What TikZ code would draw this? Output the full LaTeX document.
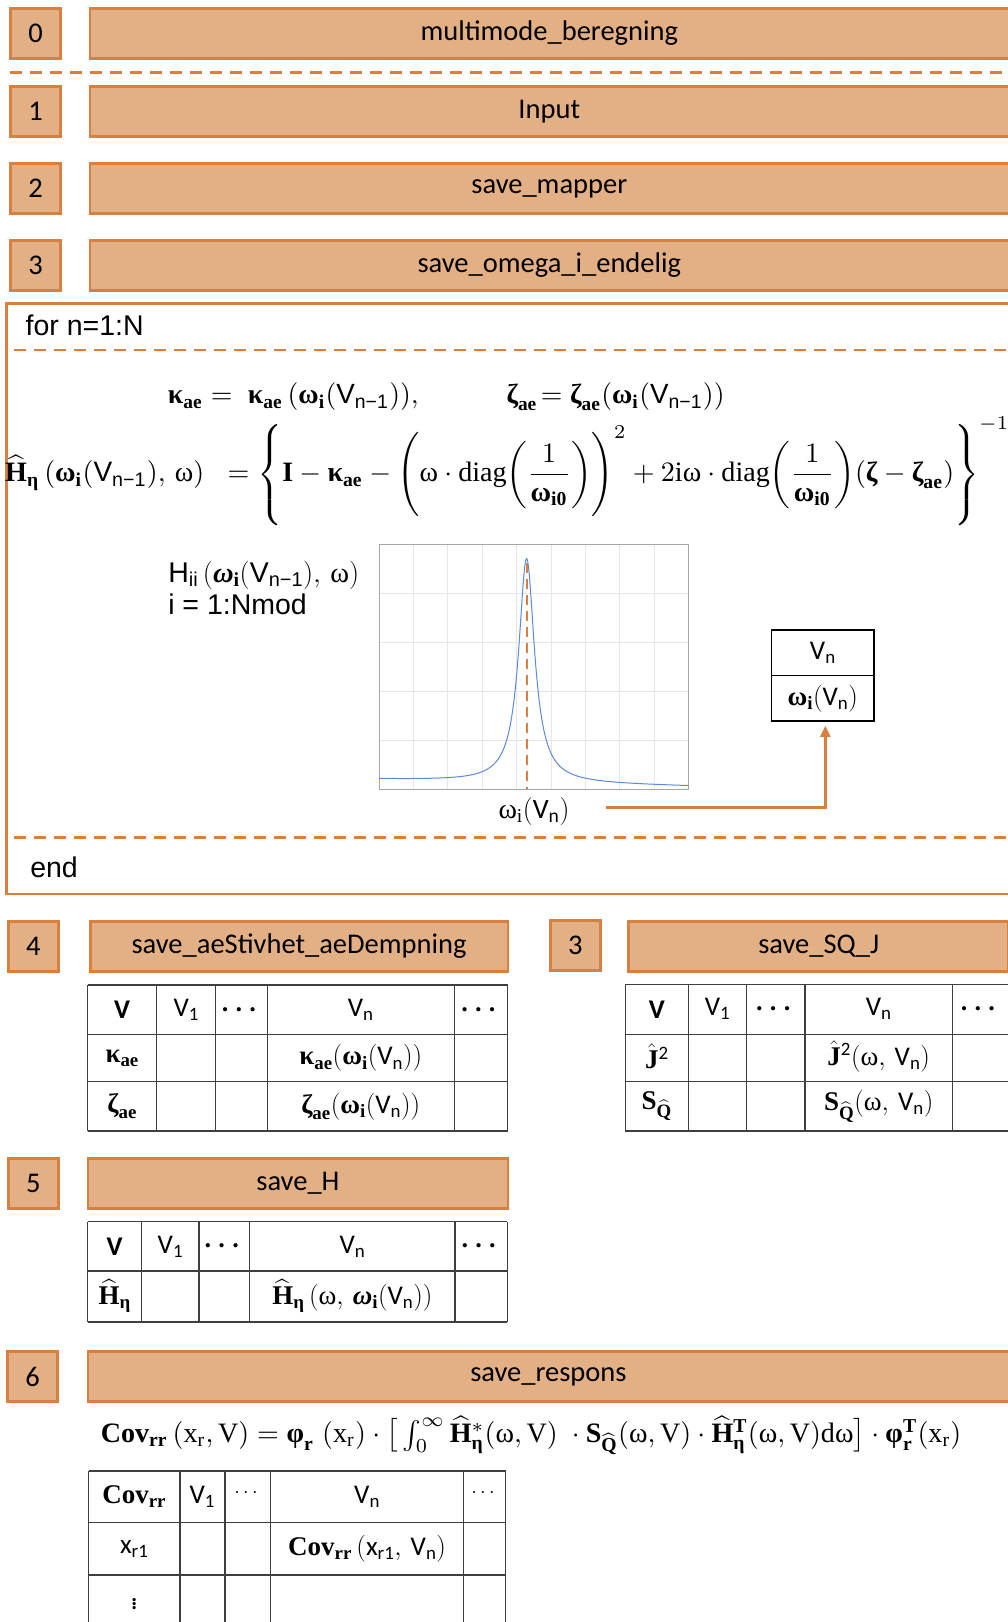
\documentclass[tikz,border=0pt]{standalone}
\usepackage{fix-cm}
\usepackage[no-math]{fontspec}
\setmainfont{Carlito}
\newfontfamily\arialfont{Liberation Sans}
\newfontfamily\serifm{Liberation Serif}
\usepackage{amsmath}
\usepackage{bm}
\usetikzlibrary{arrows.meta, positioning, calc}
\definecolor{cfill}{HTML}{E3B085}
\definecolor{cedge}{HTML}{D97F3F}
\definecolor{cline}{HTML}{3F3F3F}
\definecolor{cgrid}{HTML}{E6E6E6}
\definecolor{caxis}{HTML}{A6A6A6}
\definecolor{ccurve}{HTML}{5B8AD6}
\newcommand{\rs}[1]{\text{\serifm\upshape\mdseries #1}}
\newcommand{\bs}[1]{\text{\serifm\upshape\bfseries #1}}
\newcommand{\Vs}[1]{\text{V}_{\text{#1}}}
\newcommand{\Va}[1]{\text{\arialfont V}_{\text{\arialfont #1}}}
\newcommand{\bomi}{\bs{ω}_{\bs{i}}}
\newcommand{\bomit}{\text{\serifm\bfseries\itshape ω}_{\bs{i}}}
\newcommand{\Hhat}{\smash[t]{\widehat{\bs{H}}}}
\newcommand{\tdots}{$\bm{\cdots}$}
\tikzset{
  numbox/.style={draw=cedge, fill=cfill, minimum width=50pt, minimum height=50pt, inner sep=0pt, font=\fontsize{28.5}{34}\selectfont},
  funbox/.style={numbox, minimum width=#1},
  sep/.style={draw=cedge, dash pattern=on 12pt off 8pt},
  tab/.style={draw=cline, line width=1.5pt},
  cell/.style={inner sep=0pt, font=\fontsize{27}{32}\selectfont},
  lab/.style={inner sep=0pt, font=\arialfont\fontsize{28.5}{34}\selectfont},
  flow/.style={-{Triangle[length=11pt, width=10pt]}, draw=cedge},
}

\begin{document}
\begin{tikzpicture}[x=1pt, y=-1pt, line width=2.5pt]
  \useasboundingbox (0,0) rectangle (1007,1622);
  % steps 0 to 3
  \foreach \k/\yy/\name in {0/33.3/multimode\_beregning, 1/111.3/Input, 2/188.7/save\_mapper, 3/265.5/save\_omega\_i\_endelig} {
    \node[numbox] (n\k) at (35.5,\yy) {\k};
    \node[funbox=919pt] (f\k) at (549.3,\yy) {\name};
  }
  \draw[sep] (10,72.7) -- (1010,72.7);

  % loop over the wind speeds
  \draw[cedge] (6.4,303.3) rectangle (1012,894);
  \node[lab, anchor=west] (forlab) at (24.4,325) {for n=1:N};
  \draw[sep] (14,350) -- (1010,350);
  \node[inner sep=0pt, anchor=west] (eqk) at (166.7,397) {\resizebox{556.6pt}{!}{$\bs{κ}_{\bs{ae}} =\; \bs{κ}_{\bs{ae}}\,(\bomi(\Va{n−1})),\qquad\quad \bs{ζ}_{\bs{ae}}\!= \bs{ζ}_{\bs{ae}}(\bomi(\Va{n−1}))$}};
  \node[inner sep=0pt, anchor=west] (eqh) at (4,472) {\resizebox{1004pt}{!}{$\displaystyle \Hhat_{\bs{η}}\,(\bomi(\Va{n−1}),\,\rs{ω})\;\;=\left\{\rule[-16pt]{0pt}{37pt}\bs{I}-\bs{κ}_{\bs{ae}}-\left(\rule[-13pt]{0pt}{31pt}\rs{ω}\cdot\rs{diag}\bigg(\frac{1}{\bs{ω}_{\bs{i0}}}\bigg)\right)^{2}+2\rs{iω}\cdot\rs{diag}\bigg(\frac{1}{\bs{ω}_{\bs{i0}}}\bigg)(\bs{ζ}-\bs{ζ}_{\bs{ae}})\right\}^{-1}$}};

  % resonance plot
  \fill[white] (379,544) rectangle (688.5,789.3);
  \draw[cgrid, line width=0.8pt] foreach \i in {1,...,8} {({379+34.39*\i},544) -- ({379+34.39*\i},789.3)};
  \draw[cgrid, line width=0.8pt] foreach \j in {1,...,4} {(379,{544+49.06*\j}) -- (688.5,{544+49.06*\j})};
  \draw[caxis, line width=1pt] (379,544) rectangle (688.5,789.3);
  \draw[ccurve, line width=1pt] plot[domain=379:688.5, samples=500] (\x, {789.3 - 224/(1+((\x-526.6)/9.6)^2) - (10-7*(\x-379)/309.5)});
  \draw[cedge, dash pattern=on 10pt off 6pt] (527,563) -- (527,789.3);
  \node[lab, anchor=base west] (hlab) at (167,582) {H\textsubscript{ii}\,$(\bomit(\Va{n−1}),\,\rs{ω})$};
  \node[lab, anchor=base west] (ilab) at (167,614) {i = 1:Nmod};
  \node[inner sep=0pt, font=\fontsize{28}{34}\selectfont] (omlab) at (534,811.7) {$\rs{ω}_{\rs{i}}(\Vs{n})$};

  % value picked for the next step
  \node[draw=black, line width=1.5pt, minimum width=102.5pt, minimum height=91pt] (vtab) at (822.8,675.5) {};
  \draw[black, line width=1.5pt] (vtab.west) -- (vtab.east);
  \node[cell] (vtop) at (822.8,652.5) {$\Vs{n}$};
  \node[cell] (vbot) at (822.8,698.7) {$\bomi(\Vs{n})$};
  \draw[flow, shorten <=35pt, shorten >=4pt] ([yshift=4pt]omlab.east) -| ([xshift=2.5pt]vtab.south);

  \draw[sep] (14,837.3) -- (1010,837.3);
  \node[lab, anchor=west] (endlab) at (29,867) {end};

  % step 4
  \node[numbox] (n4) at (33.3,946.5) {4};
  \node[funbox=417.5pt] (f4) at (299,946.5) {save\_aeStivhet\_aeDempning};
  \draw[tab] foreach \cx in {87.7,156.7,215.7,267.3,454.3,507.7} {(\cx,985) -- (\cx,1131)};
  \draw[tab] foreach \cy in {985,1034.7,1081.7,1131} {(87.7,\cy) -- (507.7,\cy)};
  \node[cell] (aeV) at (122.2,1009.9) {\textbf{V}};
  \node[cell] (aeV1) at (186.2,1009.9) {$\Vs{1}$};
  \node[cell] (aeDa) at (241.5,1009.9) {\tdots};
  \node[cell] (aeVn) at (360.8,1009.9) {$\Vs{n}$};
  \node[cell] (aeDb) at (481,1009.9) {\tdots};
  \node[cell] (aeK) at (122.2,1058.2) {$\bs{κ}_{\bs{ae}}$};
  \node[cell] (aeKn) at (360.8,1058.2) {$\bs{κ}_{\bs{ae}}(\bomi(\Vs{n}))$};
  \node[cell] (aeZ) at (122.2,1106.4) {$\bs{ζ}_{\bs{ae}}$};
  \node[cell] (aeZn) at (360.8,1106.4) {$\bs{ζ}_{\bs{ae}}(\bomi(\Vs{n}))$};

  % step 3, spectra
  \node[numbox] (n3b) at (575.3,945.3) {3};
  \node[funbox=380pt] (f3b) at (818.7,946.5) {save\_SQ\_J};
  \draw[tab] foreach \cx in {625.3,688.3,746.7,805,952.3,1010} {(\cx,984.3) -- (\cx,1131)};
  \draw[tab] foreach \cy in {984.3,1034.3,1081.7,1131} {(625.3,\cy) -- (1010,\cy)};
  \node[cell] (sqV) at (656.8,1009.3) {\textbf{V}};
  \node[cell] (sqV1) at (717.5,1009.3) {$\Vs{1}$};
  \node[cell] (sqDa) at (775.9,1009.3) {\tdots};
  \node[cell] (sqVn) at (878.7,1009.3) {$\Vs{n}$};
  \node[cell] (sqDb) at (980.6,1009.3) {\tdots};
  \node[cell] (sqJ) at (656.8,1058) {$\smash[t]{\hat{\bs{J}}}^{\text{2}}$};
  \node[cell] (sqJn) at (878.7,1058) {$\smash[t]{\hat{\bs{J}}}^{\text{2}}(\rs{ω},\,\Vs{n})$};
  \node[cell] (sqS) at (656.8,1106.4) {$\bs{S}_{\widehat{\bs{Q}}}$};
  \node[cell] (sqSn) at (878.7,1106.4) {$\bs{S}_{\widehat{\bs{Q}}}(\rs{ω},\,\Vs{n})$};

  % step 5
  \node[numbox] (n5) at (33.3,1183.5) {5};
  \node[funbox=420pt] (f5) at (297.9,1183.5) {save\_H};
  \draw[tab] foreach \cx in {87.7,141.7,199,249.7,455,507.3} {(\cx,1221.7) -- (\cx,1322)};
  \draw[tab] foreach \cy in {1221.7,1271,1322} {(87.7,\cy) -- (507.3,\cy)};
  \node[cell] (hV) at (114.7,1246.4) {\textbf{V}};
  \node[cell] (hV1) at (170.4,1246.4) {$\Vs{1}$};
  \node[cell] (hDa) at (224.4,1246.4) {\tdots};
  \node[cell] (hVn) at (352.4,1246.4) {$\Vs{n}$};
  \node[cell] (hDb) at (481.2,1246.4) {\tdots};
  \node[cell] (hH) at (114.7,1296.5) {$\widehat{\bs{H}}_{\bs{η}}$};
  \node[cell] (hHn) at (352.4,1296.5) {$\widehat{\bs{H}}_{\bs{η}}\,(\rs{ω},\,\bomit(\Vs{n}))$};

  % step 6
  \node[numbox] (n6) at (32.7,1376.5) {6};
  \node[funbox=921pt] (f6) at (548.4,1376.5) {save\_respons};
  \node[inner sep=0pt, anchor=west] (eqcov) at (99.5,1436.7) {\resizebox{860.5pt}{!}{$\bs{Cov}_{\bs{rr}}\,(\rs{x}_{\rs{r}},\rs{V}) = \bs{φ}_{\bs{r}}\;(\rs{x}_{\rs{r}})\cdot\big[\int_0^\infty \Hhat^{*}_{\bs{η}}(\rs{ω},\rs{V})\;\cdot\bs{S}_{\widehat{\bs{Q}}}(\rs{ω},\rs{V})\cdot\Hhat^{\bs{T}}_{\bs{η}}(\rs{ω},\rs{V})\rs{dω}\big]\cdot\bs{φ}^{\bs{T}}_{\bs{r}}(\rs{x}_{\rs{r}})$}};
  \draw[tab] foreach \cx in {88.6,179.8,224.8,270.4,463.7,505.5} {(\cx,1471) -- (\cx,1640)};
  \draw[tab] foreach \cy in {1471,1522.7,1575} {(88.6,\cy) -- (505.5,\cy)};
  \node[cell] (cvC) at (134.2,1496.9) {$\bs{Cov}_{\bs{rr}}$};
  \node[cell] (cvV1) at (202.3,1496.9) {$\Vs{1}$};
  \node[cell, font=\fontsize{20}{24}\selectfont] (cvDa) at (247.6,1493) {$\cdots$};
  \node[cell] (cvVn) at (367.1,1496.9) {$\Vs{n}$};
  \node[cell, font=\fontsize{20}{24}\selectfont] (cvDb) at (484.6,1493) {$\cdots$};
  \node[cell] (cvX) at (134.2,1548.9) {$\text{x}_{\text{r1}}$};
  \node[cell] (cvXn) at (367.1,1548.9) {$\bs{Cov}_{\bs{rr}}\,(\text{x}_{\text{r1}},\,\Vs{n})$};
  \node[cell] (cvDc) at (134.2,1601) {$\vdots$};
\end{tikzpicture}
\end{document}
